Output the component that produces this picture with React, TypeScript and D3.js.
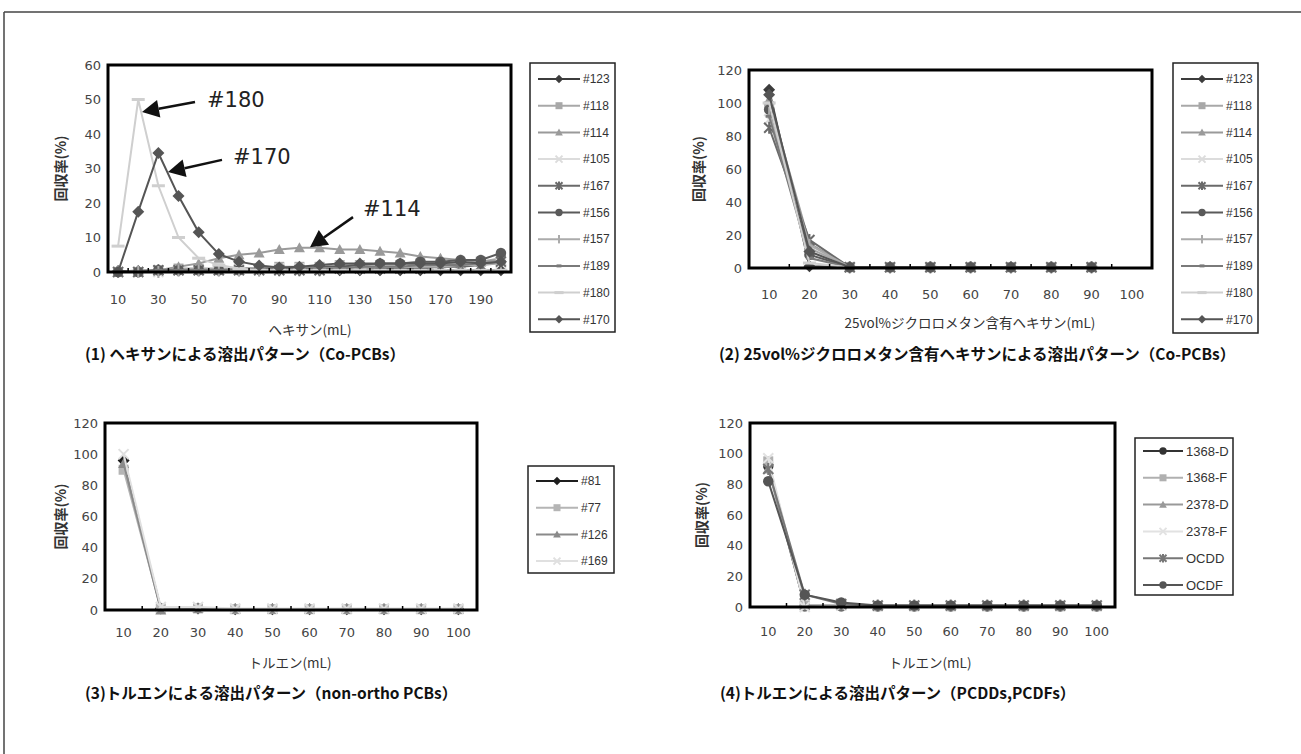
import React from 'react';
import * as d3 from 'd3';

// solvent volumes (mL)
const hexaneVol = [10, 20, 30, 40, 50, 60, 70, 80, 90, 100, 110, 120, 130, 140, 150, 160, 170, 180, 190, 200];
const hexaneTicks = [10, 30, 50, 70, 90, 110, 130, 150, 170, 190];
const dcmVol = [10, 20, 30, 40, 50, 60, 70, 80, 90, 100];
const tolueneVol = [10, 20, 30, 40, 50, 60, 70, 80, 90, 100];

// (1) hexane, Co-PCBs
const coPcbNames = ['#123', '#118', '#114', '#105', '#167', '#156', '#157', '#189', '#180', '#170'];
const hex123 = [0.3, 0.3, 0.5, 0.5, 0.5, 0.5, 0.5, 0.5, 0.5, 0.5, 0.5, 0.5, 0.5, 0.5, 0.5, 0.5, 0.5, 0.5, 0.5, 0.5];
const hex118 = [0, 0, 0.5, 1, 1, 1, 1, 1, 1.5, 1.5, 1.5, 2, 2, 2, 2, 2.5, 2.5, 2.5, 3, 4];
const hex114 = [0, 0.5, 0.5, 1.5, 2.5, 4, 5, 5.5, 6.5, 7, 7, 6.5, 6.5, 6, 5.5, 4.5, 4, 3.5, 3, 3.5];
const hex105 = [0, 0, 0, 0.5, 0.5, 0.5, 1, 1, 1, 1, 1, 1.5, 1.5, 1.5, 1.5, 1.5, 2, 2, 2, 2.5];
const hex167 = [0, 0, 0.5, 0.5, 0.5, 0.5, 0.5, 0.5, 0.5, 0.5, 0.5, 1, 1, 1, 1, 1, 1.5, 1.5, 2, 3];
const hex156 = [0, 0, 0.5, 0.5, 0.5, 0.5, 0.5, 1, 1, 1, 1.5, 1.5, 2, 2.5, 2.5, 3, 3, 3.5, 3.5, 5.5];
const hex157 = [0, 0, 0, 0.5, 0.5, 0.5, 0.5, 0.5, 1, 1, 1, 1, 1, 1.5, 1.5, 1.5, 1.5, 2, 2, 2.5];
const hex189 = [0, 0, 0.5, 0.5, 0.5, 0.5, 1, 1, 1, 1, 1, 1, 1.5, 1.5, 1.5, 2, 2, 2, 2.5, 3];
const hex180 = [7.5, 50, 25, 10, 4, 2, 1, 0.5, 0.5, 0.5, 0.5, 0.5, 0.5, 0.5, 0.5, 0.5, 0.5, 0.5, 0.5, 0.5];
const hex170 = [0, 17.5, 34.5, 22, 11.5, 5.2, 3, 1.9, 1.3, 1.5, 2, 2.5, 2.5, 2.5, 2.5, 2.5, 2.5, 3, 2.5, 3];

// (2) 25vol% DCM in hexane, Co-PCBs (no point at 100 mL)
const dcm123 = [108, 1, 0.5, 0.5, 0.5, 0.5, 0.5, 0.5, 0.5];
const dcm118 = [98, 12, 0.5, 0.5, 0.5, 0.5, 0.5, 0.5, 0.5];
const dcm114 = [102, 15, 0.5, 0.5, 0.5, 0.5, 0.5, 0.5, 0.5];
const dcm105 = [90, 10, 0.5, 0.5, 0.5, 0.5, 0.5, 0.5, 0.5];
const dcm167 = [85, 17, 0.5, 0.5, 0.5, 0.5, 0.5, 0.5, 0.5];
const dcm156 = [96, 8, 0.5, 0.5, 0.5, 0.5, 0.5, 0.5, 0.5];
const dcm157 = [94, 14, 0.5, 0.5, 0.5, 0.5, 0.5, 0.5, 0.5];
const dcm189 = [92, 6, 0.5, 0.5, 0.5, 0.5, 0.5, 0.5, 0.5];
const dcm180 = [100, 3, 0.5, 0.5, 0.5, 0.5, 0.5, 0.5, 0.5];
const dcm170 = [105, 10, 0.5, 0.5, 0.5, 0.5, 0.5, 0.5, 0.5];

// (3) toluene, non-ortho PCBs
const nonOrthoNames = ['#81', '#77', '#126', '#169'];
const tol81 = [96, 1, 1, 0.5, 0.5, 0.5, 0.5, 0.5, 0.5, 0.5];
const tol77 = [90, 1, 1, 0.5, 0.5, 0.5, 0.5, 0.5, 0.5, 0.5];
const tol126 = [94, 0, 1, 0.5, 0.5, 0.5, 0.5, 0.5, 0.5, 0.5];
const tol169 = [100, 2, 2, 1, 1, 1, 1, 1, 1, 1];

// (4) toluene, PCDDs / PCDFs
const dioxinNames = ['1368-D', '1368-F', '2378-D', '2378-F', 'OCDD', 'OCDF'];
const tolD1368 = [92, 0.5, 0.5, 0.5, 0.5, 0.5, 0.5, 0.5, 0.5, 0.5];
const tolF1368 = [95, 1, 1, 0.5, 0.5, 0.5, 0.5, 0.5, 0.5, 0.5];
const tolD2378 = [90, 1, 1, 1, 1, 1, 1, 1, 1, 1];
const tolF2378 = [97, 0, 1, 1, 1, 1, 1, 1, 1, 1];
const tolOCDD = [90, 8, 2, 1, 1, 1, 1, 1, 1, 1];
const tolOCDF = [82, 8, 3, 1, 1, 1, 1, 1, 1, 1];

const coPcbColors = ['#3c3c3c', '#a8a8a8', '#9a9a9a', '#dcdcdc', '#6a6a6a', '#5a5a5a', '#ababab', '#7a7a7a', '#cfcfcf', '#555555'];
const coPcbMarkers = ['diamond', 'square', 'triangle', 'x', 'asterisk', 'circle', 'vbar', 'dash', 'wdash', 'diamond'];
const nonOrthoColors = ['#1e1e1e', '#b5b5b5', '#8a8a8a', '#e0e0e0'];
const nonOrthoMarkers = ['diamond', 'square', 'triangle', 'x'];
const dioxinColors = ['#333333', '#b0b0b0', '#999999', '#e2e2e2', '#777777', '#555555'];
const dioxinMarkers = ['circle', 'square', 'triangle', 'x', 'asterisk', 'circle'];

const JP = '"Noto Sans CJK JP", sans-serif';
const NUM = '"DejaVu Sans", sans-serif';
const LEG = '"Liberation Sans", Arial, sans-serif';

function Marker({ type, cx, cy, color, r }) {
  const t = `translate(${cx},${cy})`;
  if (type === 'diamond') return <path transform={t} d={`M0,${-r * 1.2}L${r * 1.2},0L0,${r * 1.2}L${-r * 1.2},0Z`} fill={color} />;
  if (type === 'square') return <rect x={cx - r} y={cy - r} width={r * 2} height={r * 2} fill={color} />;
  if (type === 'triangle') return <path transform={t} d={`M0,${-r * 1.1}L${r * 1.1},${r * 0.9}L${-r * 1.1},${r * 0.9}Z`} fill={color} />;
  if (type === 'circle') return <circle cx={cx} cy={cy} r={r * 1.05} fill={color} />;
  if (type === 'x') return <path transform={t} d={`M${-r},${-r}L${r},${r}M${r},${-r}L${-r},${r}`} stroke={color} strokeWidth={2} />;
  if (type === 'asterisk')
    return <path transform={t} d={`M${-r},${-r}L${r},${r}M${r},${-r}L${-r},${r}M0,${-r * 1.2}L0,${r * 1.2}`} stroke={color} strokeWidth={2} />;
  if (type === 'vbar') return <rect x={cx - 1} y={cy - r * 1.2} width={2} height={r * 2.4} fill={color} />;
  if (type === 'dash') return <rect x={cx - r * 0.7} y={cy - 1.5} width={r * 1.4} height={3} fill={color} />;
  return <rect x={cx - r * 1.3} y={cy - 1.5} width={r * 2.6} height={3} fill={color} />;
}

function Arrow({ x1, y1, x2, y2 }) {
  const dx = x2 - x1, dy = y2 - y1;
  const len = Math.hypot(dx, dy);
  const ux = dx / len, uy = dy / len;
  const hl = 17, hw = 9;
  const bx = x2 - ux * hl, by = y2 - uy * hl;
  return (
    <g>
      <line x1={x1} y1={y1} x2={bx} y2={by} stroke="#111" strokeWidth={2.5} />
      <path d={`M${x2},${y2}L${bx - uy * hw},${by + ux * hw}L${bx + uy * hw},${by - ux * hw}Z`} fill="#111" />
    </g>
  );
}

function Panel({ frame, cats, ticks, yMax, series, names, colors, markers, legend, yLabelX, xTitle, xTitleX, tickY, titleY, caption, capX, capY, notes }) {
  const x = d3.scaleBand().domain(cats.map(String)).range([frame.x0, frame.x1]);
  const cx = (v) => x(String(v)) + x.bandwidth() / 2;
  const y = d3.scaleLinear().domain([0, yMax]).range([frame.y1, frame.y0]);
  const line = d3.line().x((d) => d[0]).y((d) => d[1]);
  const mr = 5;

  return (
    <g>
      {/* y tick labels */}
      {y.ticks(6).map((t) => (
        <text key={t} x={frame.x0 - 7} y={y(t)} dy="0.35em" textAnchor="end" fontFamily={NUM} fontSize={13} fill="#444">
          {t}
        </text>
      ))}
      <text transform={`translate(${yLabelX},${(frame.y0 + frame.y1) / 2}) rotate(-90)`} textAnchor="middle" dy="0.35em" fontFamily={JP} fontWeight="bold" fontSize={14} fill="#333">
        回収率(%)
      </text>
      {/* x tick labels */}
      {ticks.map((t) => (
        <text key={t} x={cx(t)} y={tickY} textAnchor="middle" fontFamily={NUM} fontSize={13} fill="#444">
          {t}
        </text>
      ))}
      <text x={xTitleX} y={titleY} textAnchor="middle" fontFamily={JP} fontSize={13.5} fill="#333">
        {xTitle}
      </text>
      <text x={capX} y={capY} fontFamily={JP} fontWeight="bold" fontSize={15.5} fill="#111">
        {caption}
      </text>

      <rect x={frame.x0} y={frame.y0} width={frame.x1 - frame.x0} height={frame.y1 - frame.y0} fill="#fff" />
      {/* series */}
      {series.map((vals, i) => {
        const pts = vals.map((v, j) => [cx(cats[j]), y(v)]);
        return (
          <g key={names[i]}>
            <path d={line(pts)} fill="none" stroke={colors[i]} strokeWidth={2} />
            {pts.map((p, j) => (
              <Marker key={j} type={markers[i]} cx={p[0]} cy={p[1]} color={colors[i]} r={mr} />
            ))}
          </g>
        );
      })}
      {/* minor ticks on category axis */}
      {cats.slice(1).map((c) => (
        <line key={c} x1={x(String(c))} x2={x(String(c))} y1={frame.y1} y2={frame.y1 - 4} stroke="#000" strokeWidth={1.5} />
      ))}
      <rect x={frame.x0} y={frame.y0} width={frame.x1 - frame.x0} height={frame.y1 - frame.y0} fill="none" stroke="#000" strokeWidth={3} />

      {notes &&
        notes.map((n) => (
          <g key={n.label}>
            <Arrow x1={n.tail[0]} y1={y(n.tail[1])} x2={n.tip[0]} y2={y(n.tip[1])} />
            <text x={n.tx} y={y(n.ty)} dy="0.35em" fontFamily={NUM} fontSize={21} fill="#222">
              {n.label}
            </text>
          </g>
        ))}

      {/* legend */}
      <rect x={legend.x0} y={legend.y0} width={legend.x1 - legend.x0} height={legend.y1 - legend.y0} fill="#fff" stroke="#222" strokeWidth={1.5} />
      {names.map((nm, i) => {
        const ly = legend.first + i * legend.gap;
        const lx0 = legend.x0 + 8;
        const lx1 = lx0 + legend.lineLen;
        return (
          <g key={nm}>
            <line x1={lx0} x2={lx1} y1={ly} y2={ly} stroke={colors[i]} strokeWidth={2} />
            <Marker type={markers[i]} cx={(lx0 + lx1) / 2} cy={ly} color={colors[i]} r={3.5} />
            <text x={lx1 + 3} y={ly} dy="0.35em" fontFamily={LEG} fontSize={legend.fs} fill="#333">
              {nm}
            </text>
          </g>
        );
      })}
    </g>
  );
}

export default function App() {
  return (
    <svg width={1301} height={754} style={{ position: 'absolute', left: 0, top: 0, background: '#fff' }}>
      <rect x={0} y={0} width={1301} height={754} fill="#fff" />
      <line x1={4} y1={12} x2={1301} y2={12} stroke="#444" strokeWidth={1.5} />
      <line x1={4} y1={12} x2={4} y2={754} stroke="#444" strokeWidth={1.5} />

      <Panel
        frame={{ x0: 108, x1: 511, y0: 65, y1: 272 }}
        cats={hexaneVol}
        ticks={hexaneTicks}
        yMax={60}
        series={[hex123, hex118, hex114, hex105, hex167, hex156, hex157, hex189, hex180, hex170]}
        names={coPcbNames}
        colors={coPcbColors}
        markers={coPcbMarkers}
        legend={{ x0: 530, x1: 615, y0: 63, y1: 332, first: 79, gap: 26.7, lineLen: 42, fs: 12 }}
        yLabelX={61}
        xTitle="ヘキサン(mL)"
        xTitleX={310}
        tickY={304}
        titleY={335}
        caption="(1) ヘキサンによる溶出パターン（Co-PCBs）"
        capX={85}
        capY={360}
        notes={[
          { label: '#180', tx: 207, ty: 49.9, tail: [195, 49.3], tip: [142, 46.4] },
          { label: '#170', tx: 233, ty: 33.3, tail: [222, 32.5], tip: [168, 29] },
          { label: '#114', tx: 363, ty: 18.5, tail: [353, 15.9], tip: [310, 7.2] },
        ]}
      />
      <Panel
        frame={{ x0: 749, x1: 1152, y0: 70, y1: 268 }}
        cats={dcmVol}
        ticks={dcmVol}
        yMax={120}
        series={[dcm123, dcm118, dcm114, dcm105, dcm167, dcm156, dcm157, dcm189, dcm180, dcm170]}
        names={coPcbNames}
        colors={coPcbColors}
        markers={coPcbMarkers}
        legend={{ x0: 1173, x1: 1258, y0: 63, y1: 333, first: 79, gap: 26.7, lineLen: 42, fs: 12 }}
        yLabelX={699}
        xTitle="25vol%ジクロロメタン含有ヘキサン(mL)"
        xTitleX={970}
        tickY={299}
        titleY={328}
        caption="(2) 25vol%ジクロロメタン含有ヘキサンによる溶出パターン（Co-PCBs）"
        capX={719}
        capY={360}
      />
      <Panel
        frame={{ x0: 105, x1: 477, y0: 423, y1: 610 }}
        cats={tolueneVol}
        ticks={tolueneVol}
        yMax={120}
        series={[tol81, tol77, tol126, tol169]}
        names={nonOrthoNames}
        colors={nonOrthoColors}
        markers={nonOrthoMarkers}
        legend={{ x0: 528, x1: 614, y0: 466, y1: 573, first: 481, gap: 26.7, lineLen: 42, fs: 12 }}
        yLabelX={61}
        xTitle="トルエン(mL)"
        xTitleX={290}
        tickY={637}
        titleY={668}
        caption="(3)トルエンによる溶出パターン（non-ortho PCBs）"
        capX={85}
        capY={699}
      />
      <Panel
        frame={{ x0: 750, x1: 1115, y0: 423, y1: 607 }}
        cats={tolueneVol}
        ticks={tolueneVol}
        yMax={120}
        series={[tolD1368, tolF1368, tolD2378, tolF2378, tolOCDD, tolOCDF]}
        names={dioxinNames}
        colors={dioxinColors}
        markers={dioxinMarkers}
        legend={{ x0: 1135, x1: 1233, y0: 438, y1: 595, first: 451, gap: 26.8, lineLen: 40, fs: 13 }}
        yLabelX={702}
        xTitle="トルエン(mL)"
        xTitleX={930}
        tickY={636}
        titleY={668}
        caption="(4)トルエンによる溶出パターン（PCDDs,PCDFs）"
        capX={720}
        capY={699}
      />
    </svg>
  );
}
